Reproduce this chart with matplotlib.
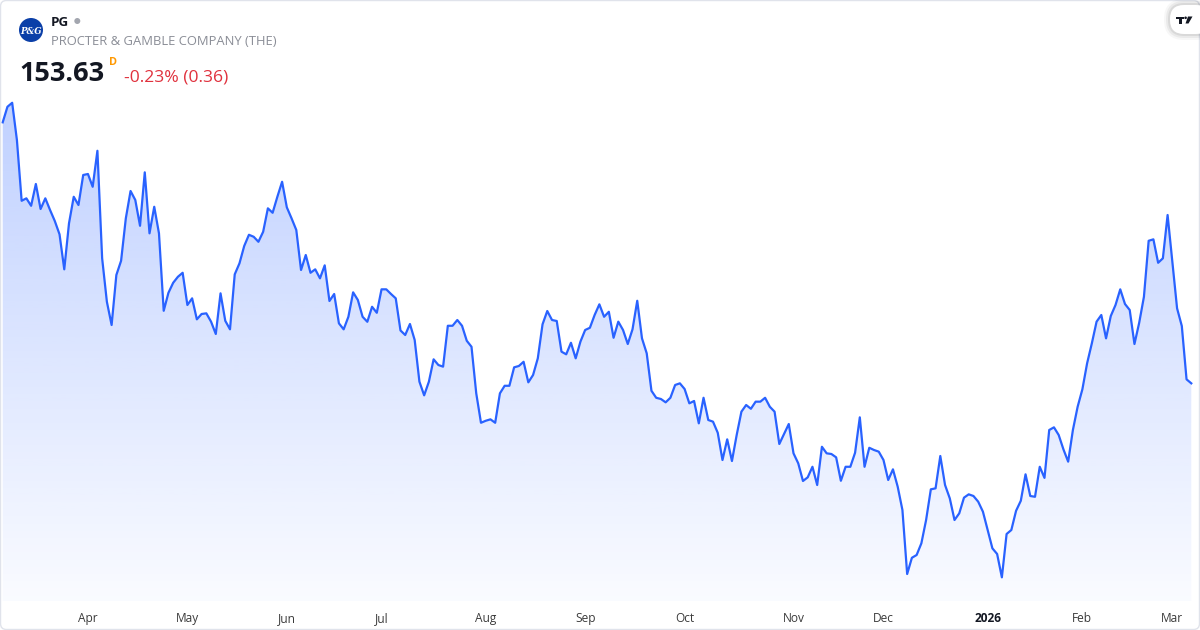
import numpy as np
import pandas as pd
import matplotlib
matplotlib.use("Agg")
import matplotlib.pyplot as plt
from matplotlib.patches import Polygon, FancyBboxPatch, Circle

# ---------------- data ----------------
ticker = "PG"
company = "PROCTER & GAMBLE COMPANY (THE)"
last_price = "153.63"
interval = "D"
change_text = "-0.23% (0.36)"
start_date = "2025-03-06"
end_date = "2026-03-06"
holidays = ["2025-04-18", "2025-05-26", "2025-06-19", "2025-07-04", "2025-09-01",
            "2025-11-27", "2025-12-25", "2026-01-01", "2026-01-19", "2026-02-16"]
month_labels = ["Apr", "May", "Jun", "Jul", "Aug", "Sep", "Oct", "Nov", "Dec", "2026", "Feb", "Mar"]
prices = [
    177.12, 178.52, 178.88, 175.53, 170.06, 170.28, 169.61, 171.57, 169.32, 170.28,
    169.23, 168.24, 167.04, 163.89, 168.03, 170.42, 169.68, 172.38, 172.47, 171.32,
    174.56, 164.88, 160.97, 158.88, 163.38, 164.66, 168.48, 170.94, 170.13, 167.81,
    172.62, 167.13, 169.52, 167.13, 160.16, 161.78, 162.68, 163.22, 163.58, 160.68,
    161.28, 159.39, 159.87, 159.93, 159.18, 158.07, 161.73, 159.26, 158.49, 163.44,
    164.43, 165.99, 167.00, 166.82, 166.37, 167.27, 169.38, 168.98, 170.42, 171.77,
    169.47, 168.48, 167.43, 163.83, 165.18, 163.58, 163.89, 163.08, 164.25, 161.04,
    161.67, 159.03, 158.49, 159.62, 161.82, 161.13, 159.62, 159.17, 160.52, 159.98,
    162.09, 162.09, 161.67, 161.28, 158.39, 157.98, 158.97, 157.53, 153.78, 152.55,
    153.78, 155.79, 155.28, 155.13, 158.81, 158.81, 159.33, 158.81, 157.46, 156.92,
    152.73, 150.08, 150.26, 150.39, 150.08, 152.73, 153.41, 153.41, 155.07, 155.19,
    155.57, 153.72, 154.38, 155.88, 158.94, 160.14, 159.33, 159.24, 156.48, 156.24,
    157.28, 155.88, 157.38, 158.43, 158.63, 159.78, 160.74, 159.62, 160.07, 157.73,
    159.18, 158.43, 157.17, 158.49, 161.06, 157.68, 156.33, 152.96, 152.33, 152.22,
    151.92, 152.33, 153.48, 153.63, 153.12, 151.83, 152.04, 150.03, 152.33, 150.33,
    150.18, 149.18, 146.73, 148.59, 146.64, 148.98, 151.08, 151.68, 151.34, 151.98,
    151.98, 152.33, 151.52, 151.08, 148.17, 149.07, 149.97, 147.33, 146.43, 144.84,
    145.17, 146.12, 144.48, 147.92, 147.33, 147.27, 146.97, 144.86, 146.12, 146.12,
    147.38, 150.57, 146.12, 147.83, 147.63, 147.48, 146.73, 144.93, 145.89, 144.33,
    142.23, 136.47, 137.93, 138.18, 139.23, 141.33, 144.09, 144.18, 147.09, 144.48,
    143.28, 141.33, 141.93, 143.34, 143.64, 143.49, 142.98, 142.08, 140.43, 138.78,
    138.27, 136.17, 140.07, 140.43, 142.16, 143.06, 145.44, 143.49, 143.42, 146.12,
    145.12, 149.43, 149.67, 148.98, 147.69, 146.58, 149.43, 151.52, 153.09, 155.43,
    157.23, 159.18, 159.78, 157.68, 159.69, 160.68, 162.09, 160.77, 160.23, 157.17,
    159.08, 161.42, 166.46, 166.59, 164.48, 164.88, 168.78, 164.57, 160.38, 158.79,
    153.99, 153.63,
]

# ---------------- dates / ticks ----------------
dates = pd.bdate_range(start_date, end_date)
dates = dates[~dates.isin(pd.to_datetime(holidays))]
n = min(len(dates), len(prices))
dates = dates[:n]
y = np.array(prices[:n])
x = np.arange(n)
periods = dates.to_period("M")
first_idx = [i for i in range(1, n) if periods[i] != periods[i - 1]]

# ---------------- figure ----------------
W, H = 1200, 630
fig = plt.figure(figsize=(W / 100, H / 100), dpi=100)
fig.patch.set_facecolor("white")

def fx(px):
    return px / W

def fy(py):
    return 1 - py / H

ax_left, ax_right, ax_top, ax_bottom = 1, 1199, 95, 601
ax = fig.add_axes([fx(ax_left), fy(ax_bottom), (ax_right - ax_left) / W, (ax_bottom - ax_top) / H])
ax.set_facecolor("none")
ylo, yhi = 134.04, 179.58
xlo, xhi = -0.36, 252.63
ax.set_xlim(xlo, xhi)
ax.set_ylim(ylo, yhi)
for s in ax.spines.values():
    s.set_visible(False)
ax.set_yticks([])

line_color = "#2962FF"

# gradient fill under line
verts = [(x[0], ylo)] + list(zip(x, y)) + [(x[-1], ylo)]
poly = Polygon(verts, closed=True, facecolor="none", edgecolor="none")
ax.add_patch(poly)
alphas = np.linspace(0.025, 0.30, 256)
grad = np.zeros((256, 1, 4))
grad[:, 0, 0] = 41 / 255
grad[:, 0, 1] = 98 / 255
grad[:, 0, 2] = 1.0
grad[:, 0, 3] = alphas
im = ax.imshow(grad, extent=[xlo, xhi, ylo, yhi], origin="lower", aspect="auto",
               interpolation="bilinear", zorder=1)
im.set_clip_path(poly)

ax.plot(x, y, color=line_color, lw=1.6, solid_joinstyle="round", zorder=3)

# x ticks
ax.set_xticks(first_idx)
ax.set_xticklabels(month_labels[:len(first_idx)])
ax.tick_params(axis="x", length=0, pad=8, labelsize=8.6, labelcolor="#3b3b3b")
for lab in ax.get_xticklabels():
    lab.set_family("Open Sans")
    if lab.get_text().isdigit():
        lab.set_fontweight("bold")
        lab.set_color("#131722")

# ---------------- card border ----------------
card = FancyBboxPatch((0.005, 0.005), W / 100 - 0.01, H / 100 - 0.01,
                      boxstyle="round,pad=0,rounding_size=0.06",
                      transform=fig.dpi_scale_trans, facecolor="none",
                      edgecolor="#E0E3EB", lw=1.0)
fig.add_artist(card)

# ---------------- header ----------------
logo = Circle((0.31, (H - 30) / 100), 0.12, transform=fig.dpi_scale_trans,
              facecolor="#0B3FA8", edgecolor="none")
fig.add_artist(logo)
fig.text(fx(31), fy(31), "P&G", color="white", fontsize=6.2, fontstyle="italic",
         fontweight="bold", family="DejaVu Serif", ha="center", va="center")

fig.text(fx(51), fy(26), ticker, fontsize=9.6, fontweight="bold", color="#131722",
         family="Open Sans", ha="left", va="baseline")
dot = Circle((0.773, (H - 21) / 100), 0.03, transform=fig.dpi_scale_trans,
             facecolor="#A3A6AF", edgecolor="none")
fig.add_artist(dot)
fig.text(fx(51), fy(45), company, fontsize=9.4, color="#8A8D96",
         family="Open Sans", ha="left", va="baseline")
fig.text(fx(19.5), fy(81), last_price, fontsize=19.5, fontweight="bold", color="#131722",
         family="Open Sans", ha="left", va="baseline")
fig.text(fx(109), fy(65), interval, fontsize=7.8, fontweight="bold", color="#FF9800",
         family="Open Sans", ha="left", va="baseline")
fig.text(fx(124), fy(81), change_text, fontsize=12.6, color="#E0313D",
         family="Open Sans", ha="left", va="baseline")

# ---------------- TradingView mark ----------------
for i, a in enumerate([0.03, 0.05, 0.07]):
    grow = (3 - i) * 0.02
    sh = FancyBboxPatch((11.70 - grow, H / 100 - 0.34 - grow), 0.40 + 2 * grow, 0.29 + 2 * grow,
                        boxstyle="round,pad=0,rounding_size=%.3f" % (0.14 + grow),
                        transform=fig.dpi_scale_trans, facecolor="black",
                        edgecolor="none", alpha=a)
    fig.add_artist(sh)
tvbox = FancyBboxPatch((11.70, H / 100 - 0.34), 0.40, 0.29,
                       boxstyle="round,pad=0,rounding_size=0.14",
                       transform=fig.dpi_scale_trans, facecolor="white",
                       edgecolor="none")
fig.add_artist(tvbox)

def pxpoly(pts, color):
    p = Polygon([(px / 100, (H - py) / 100) for px, py in pts], closed=True,
                transform=fig.dpi_scale_trans, facecolor=color, edgecolor="none")
    fig.add_artist(p)

pxpoly([(1176, 16.5), (1184, 16.5), (1184, 19), (1181.5, 19), (1181.5, 23.5), (1179, 23.5),
        (1179, 19), (1176, 19)], "#131722")
dot2 = Circle((1185.6 / 100, (H - 17.8) / 100), 0.013, transform=fig.dpi_scale_trans,
              facecolor="#131722", edgecolor="none")
fig.add_artist(dot2)
pxpoly([(1188, 16.5), (1192.5, 16.5), (1188.5, 23.5), (1185.5, 23.5)], "#131722")

fig.savefig("out.png", dpi=100, facecolor="white")
